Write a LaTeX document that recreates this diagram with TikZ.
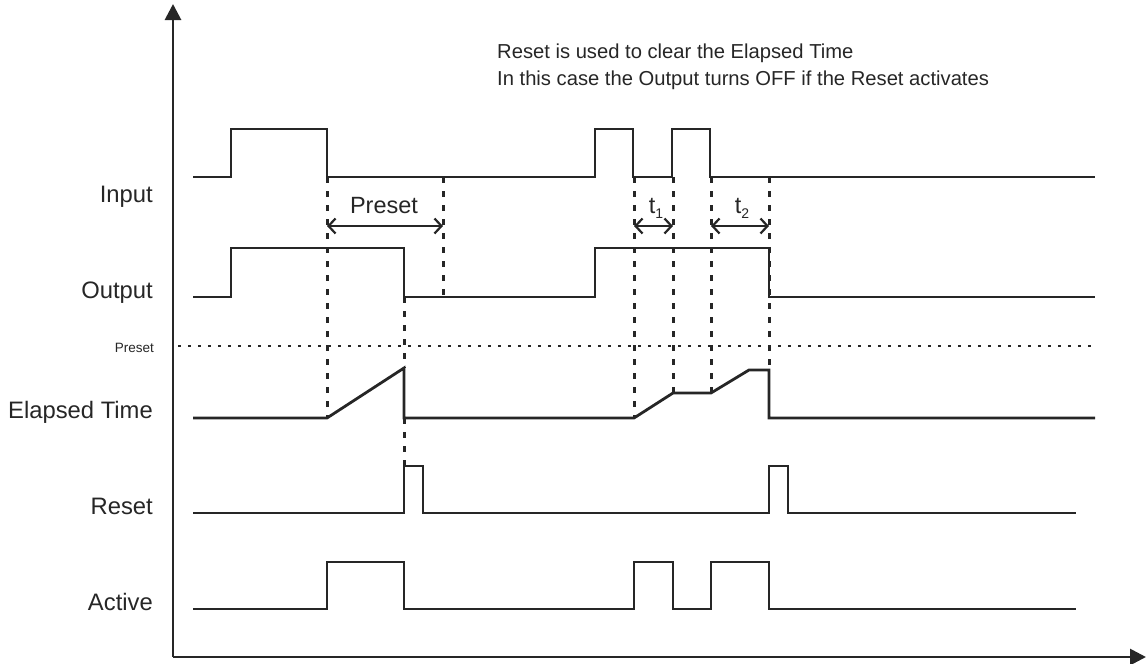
\documentclass[tikz,border=0pt]{standalone}
\usepackage{fontspec}
\setmainfont{Liberation Sans}
\usetikzlibrary{arrows.meta}
\tikzset{
  sig/.style={line width=2.8pt, line join=miter, color=black!85},
  guide/.style={line width=3pt, color=black!85, dash pattern=on 6pt off 8pt},
  dotline/.style={line width=2.7pt, color=black!85, dash pattern=on 2.7pt off 7.3pt},
  span/.style={line width=1.5pt, color=black!85, {Straight Barb[length=7pt,width=15pt,line width=2.2pt]}-{Straight Barb[length=7pt,width=15pt,line width=2.2pt]}},
  axis/.style={line width=2.8pt, color=black!85, -{Triangle[length=16pt,width=16pt]}},
  lab/.style={anchor=base east, inner sep=0pt, font=\fontsize{23.8}{28}\selectfont, text=black!85},
  note/.style={anchor=base west, inner sep=0pt, font=\fontsize{20.2}{25}\selectfont, text=black!85},
}
\newcommand{\tsub}[1]{t\raisebox{-5pt}{\fontsize{14}{14}\selectfont #1}}
\begin{document}
\begin{tikzpicture}[x=1pt,y=-1pt]
\useasboundingbox (0,0) rectangle (1146,664);
% axes
\coordinate (O) at (173,657);
\coordinate (Ytop) at (173,4);
\coordinate (Xend) at (1146,657);
\draw[axis] (O) -- (Ytop);
\draw[axis] (O) -- (Xend);

% labels
\node[lab] (lInput) at (153,202) {Input};
\node[lab] (lOutput) at (153,298) {Output};
\node[lab, font=\fontsize{13.5}{16}\selectfont] (lPreset) at (154,352) {Preset};
\node[lab] (lElapsed) at (153,418) {Elapsed Time};
\node[lab] (lReset) at (153,514) {Reset};
\node[lab] (lActive) at (153,610) {Active};

% note
\node[note] (n1) at (497,58) {Reset is used to clear the Elapsed Time};
\node[note] (n2) at (497,85) {In this case the Output turns OFF if the Reset activates};

% guide lines
\draw[guide] (327,177) -- (327,418);
\draw[guide] (443,177) -- (443,297);
\draw[guide] (404,297) -- (404,368);
\draw[guide] (404,418) -- (404,466);
\draw[guide] (634,177) -- (634,418);
\draw[guide] (673,177) -- (673,393);
\draw[guide] (711,177) -- (711,393);
\draw[guide] (769,177) -- (769,370);

% preset level
\draw[dotline] (178,346) -- (1095,346);

% spans
\coordinate (pA) at (327,226); \coordinate (pB) at (443,226);
\draw[span] (pA) -- (pB);
\node[anchor=base, inner sep=0pt, font=\fontsize{23.5}{27}\selectfont, text=black!85] (lPre) at (384,213) {Preset};
\coordinate (t1A) at (634,226); \coordinate (t1B) at (673,226);
\draw[span] (t1A) -- (t1B);
\node[anchor=base, inner sep=0pt, font=\fontsize{23.5}{27}\selectfont, text=black!85] (lt1) at (656,213) {\tsub{1}};
\coordinate (t2A) at (711,226); \coordinate (t2B) at (769,226);
\draw[span] (t2A) -- (t2B);
\node[anchor=base, inner sep=0pt, font=\fontsize{23.5}{27}\selectfont, text=black!85] (lt2) at (742,213) {\tsub{2}};

% Input
\draw[sig] (193,177) -- (231,177) -- (231,129) -- (327,129) -- (327,177) -- (595,177)
  -- (595,129) -- (633,129) -- (633,177) -- (672,177) -- (672,129) -- (710,129)
  -- (710,177) -- (1095,177);
% Output
\draw[sig] (193,297) -- (231,297) -- (231,248) -- (404,248) -- (404,297) -- (595,297)
  -- (595,248) -- (769,248) -- (769,297) -- (1095,297);
% Elapsed time
\draw[sig] (193,418) -- (327,418) -- (404,368) -- (404,418) -- (634,418) -- (673,393)
  -- (711,393) -- (749,370) -- (769,370) -- (769,418) -- (1095,418);
% Reset
\draw[sig] (193,513) -- (404,513) -- (404,466) -- (423,466) -- (423,513) -- (769,513)
  -- (769,466) -- (788,466) -- (788,513) -- (1076,513);
% Active
\draw[sig] (193,609) -- (327,609) -- (327,562) -- (404,562) -- (404,609) -- (634,609)
  -- (634,562) -- (673,562) -- (673,609) -- (711,609) -- (711,562) -- (769,562)
  -- (769,609) -- (1076,609);
\end{tikzpicture}
\end{document}
